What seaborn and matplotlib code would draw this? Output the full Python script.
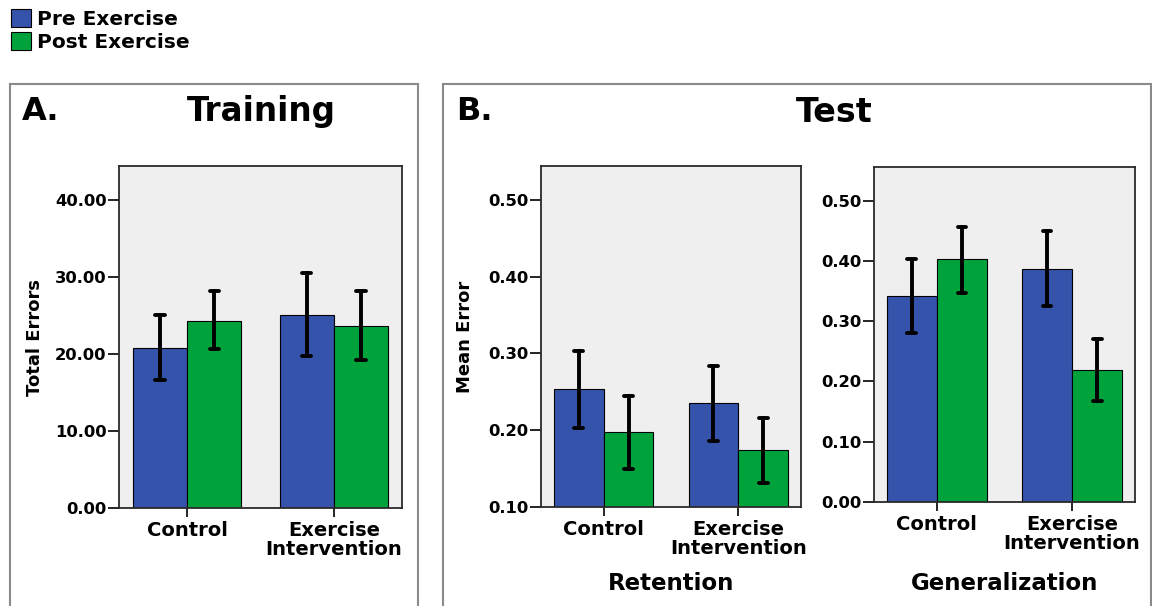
import pandas as pd
import matplotlib
matplotlib.use("Agg")
import matplotlib.pyplot as plt
import seaborn as sns
from matplotlib.patches import Rectangle

groups = ["Control", "Exercise\nIntervention"]
phases = ["Pre Exercise", "Post Exercise"]
colors = ["#3553AA", "#00A33B"]

# order: Control Pre, Control Post, Exercise Pre, Exercise Post
training_mean = [20.8, 24.3, 25.1, 23.6]
training_low = [16.6, 20.6, 19.7, 19.2]
training_high = [25.0, 28.2, 30.5, 28.2]

retention_mean = [0.253, 0.198, 0.235, 0.174]
retention_low = [0.203, 0.150, 0.186, 0.131]
retention_high = [0.303, 0.244, 0.284, 0.216]

general_mean = [0.342, 0.403, 0.387, 0.219]
general_low = [0.281, 0.347, 0.326, 0.168]
general_high = [0.404, 0.456, 0.449, 0.271]

training_ticks = [0, 10, 20, 30, 40]
retention_ticks = [0.10, 0.20, 0.30, 0.40, 0.50]
general_ticks = [0.00, 0.10, 0.20, 0.30, 0.40, 0.50]


def long_frame(mean, low, high):
    # low / mean / high per bar: median gives the bar, 100% interval gives the whisker
    rows = []
    for i, (m, lo, hi) in enumerate(zip(mean, low, high)):
        for v in (lo, m, hi):
            rows.append({"group": groups[i // 2], "phase": phases[i % 2], "value": v})
    return pd.DataFrame(rows)


sns.set_style("white")
plt.rcParams["font.family"] = ["DejaVu Sans"]
plt.rcParams["font.weight"] = "bold"
plt.rcParams["text.color"] = "black"
plt.rcParams["axes.labelcolor"] = "black"
plt.rcParams["xtick.color"] = "black"
plt.rcParams["ytick.color"] = "black"

W, H = 1152, 606
fig = plt.figure(figsize=(W / 100, H / 100), dpi=100)


def px_axes(left, top, right, bottom):
    return fig.add_axes([left / W, 1 - bottom / H, (right - left) / W, (bottom - top) / H])


def draw(ax, df, ticks, ylim, legend=False):
    sns.barplot(data=df, x="group", y="value", hue="phase", order=groups,
                hue_order=phases, palette=colors, saturation=1, width=0.74,
                estimator="median", errorbar=("pi", 100), capsize=0.13,
                err_kws={"color": "black", "linewidth": 2.8},
                edgecolor="black", linewidth=0.8, legend=legend, ax=ax)
    ax.set_facecolor("#efefef")
    ax.set_xlim(-0.465, 1.465)
    ax.set_ylim(*ylim)
    ax.set_yticks(ticks)
    ax.set_yticklabels([f"{t:.2f}" for t in ticks], fontsize=11.8, fontweight="bold")
    ax.set_xticks(range(len(groups)))
    ax.set_xticklabels(groups, fontsize=14, fontweight="bold", linespacing=1.0)
    ax.tick_params(axis="y", direction="out", length=8, width=1.2, pad=1, left=True, colors="black")
    ax.tick_params(axis="x", direction="out", length=6.5, width=1.2, pad=3, bottom=True, colors="black")
    for s in ax.spines.values():
        s.set_color("#2a2a2a")
        s.set_linewidth(1.3)
    ax.set_xlabel("")
    ax.set_ylabel("")


# panel A: training
axA = px_axes(119, 166, 402, 508)
draw(axA, long_frame(training_mean, training_low, training_high),
     training_ticks, (0, 44.4), legend=True)
axA.set_ylabel("Total Errors", fontsize=13, fontweight="bold", labelpad=8)
handles, labels = axA.get_legend_handles_labels()
axA.legend_.remove()

# panel B: retention
axR = px_axes(541, 166, 801, 507)
draw(axR, long_frame(retention_mean, retention_low, retention_high),
     retention_ticks, (0.10, 0.544))
axR.set_ylabel("Mean Error", fontsize=13, fontweight="bold", labelpad=10)
axR.set_xlabel("Retention", fontsize=16.5, fontweight="bold")
axR.xaxis.set_label_coords(0.5, -0.19)

# panel B: generalization
axG = px_axes(874, 167, 1135, 502)
draw(axG, long_frame(general_mean, general_low, general_high),
     general_ticks, (0, 0.556))
axG.set_xlabel("Generalization", fontsize=16.5, fontweight="bold")
axG.xaxis.set_label_coords(0.5, -0.21)

# panel frames
fig.add_artist(Rectangle((10 / W, -0.1), (418 - 10) / W, 1 - 84 / H + 0.1,
                         transform=fig.transFigure, fill=False, edgecolor="#8a8a8a", lw=1.5))
fig.add_artist(Rectangle((443 / W, -0.1), (1151 - 443) / W, 1 - 84 / H + 0.1,
                         transform=fig.transFigure, fill=False, edgecolor="#8a8a8a", lw=1.5))

# panel titles
fig.text(22 / W, 1 - 112 / H, "A.", fontsize=23, fontweight="bold", ha="left", va="center")
fig.text(261 / W, 1 - 112 / H, "Training", fontsize=23.5, fontweight="bold", ha="center", va="center")
fig.text(456 / W, 1 - 112 / H, "B.", fontsize=23, fontweight="bold", ha="left", va="center")
fig.text(834 / W, 1 - 112 / H, "Test", fontsize=24, fontweight="bold", ha="center", va="center")

fig.legend(handles, labels, loc="upper left", bbox_to_anchor=(11 / W, 1 - 9 / H),
           frameon=False, handlelength=1.0, handleheight=1.0, handletextpad=0.3,
           labelspacing=0.15, borderpad=0, borderaxespad=0,
           prop={"size": 14.5, "weight": "bold"})

fig.savefig("out.png", dpi=100, facecolor="white")
